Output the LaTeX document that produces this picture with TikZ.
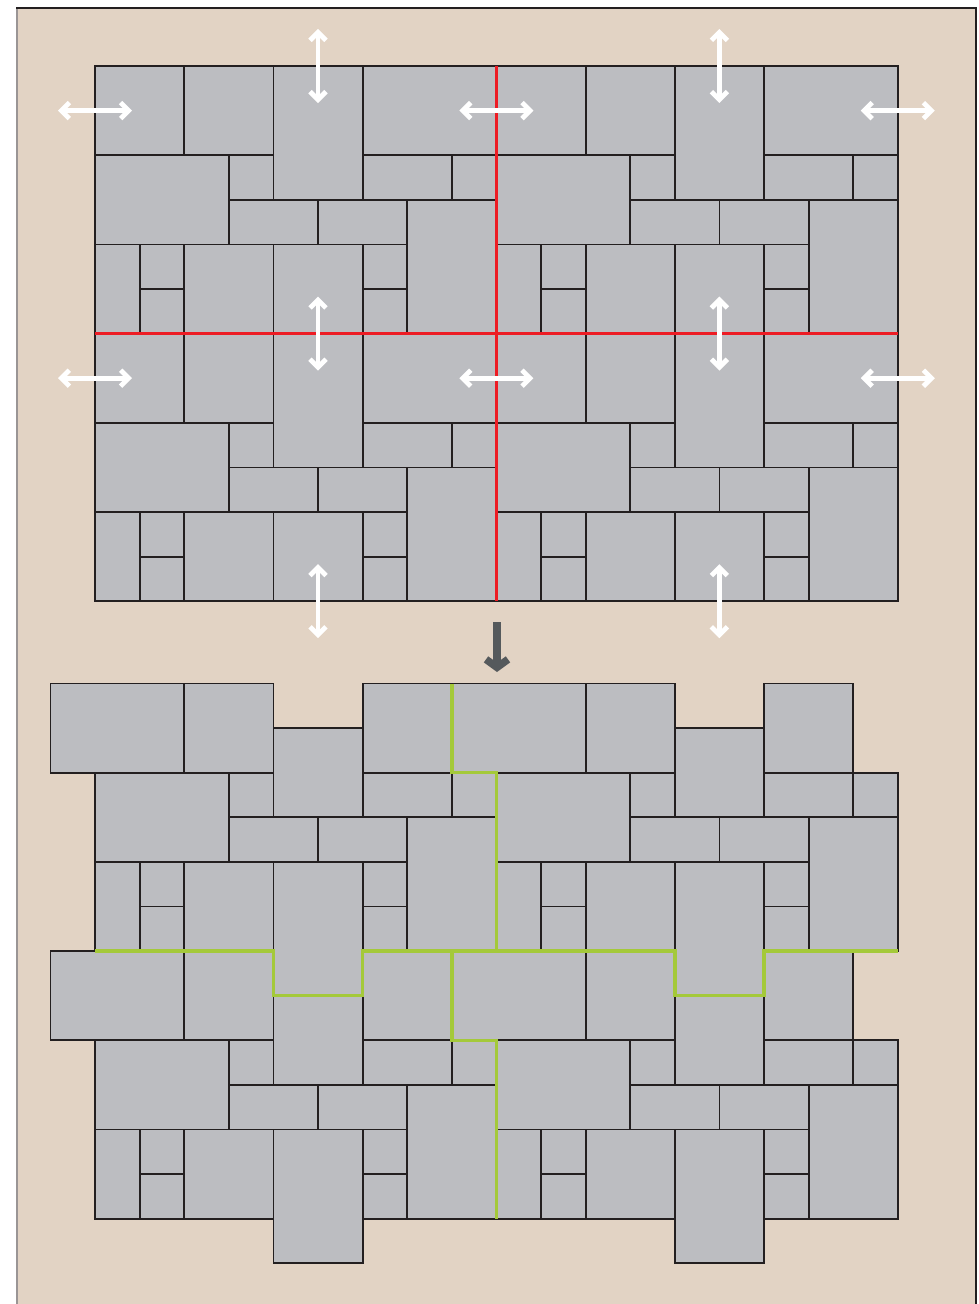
\documentclass[tikz,border=0pt]{standalone}
\usetikzlibrary{arrows.meta}
\definecolor{beige}{HTML}{E2D3C4}
\definecolor{tilegray}{HTML}{BCBDC1}
\definecolor{tileline}{HTML}{231F20}
\definecolor{cutred}{HTML}{ED1C24}
\definecolor{seamgreen}{HTML}{A4C93A}
\definecolor{darkarrow}{HTML}{55595C}
\definecolor{frameleft}{HTML}{9A9595}
\begin{document}
\begin{tikzpicture}[x=1pt,y=-1pt,
  tile/.style={fill=tilegray,draw=tileline,line width=1.8pt},
  redcut/.style={draw=cutred,line width=3.4pt},
  seam/.style={draw=seamgreen,line width=3.4pt},
  pullarrow/.style={draw=white,line width=4.8pt,{Straight Barb[length=8pt,width=16pt]}-{Straight Barb[length=8pt,width=16pt]}},
  downarrow/.style={draw=darkarrow,line width=7.5pt,-{Straight Barb[length=8pt,width=22pt]}}]
\useasboundingbox (0,0) rectangle (979,1304);
\fill[white] (0,0) rectangle (979,1304);
\fill[beige] (17,8) rectangle (976,1310);
\draw[frameleft,line width=1.4pt] (17,8) -- (17,1310);
\draw[tileline,line width=1.4pt] (16.3,8) -- (976,8) -- (976,1310);
% top: four rectangular blocks
\begin{scope}[shift={(95pt,-66pt)},x=44.6pt,y=-44.6pt]
  \foreach \ox/\oy in {0/0,9/0,0/6,9/6}{
    \foreach \a/\b/\c/\d in {0/0/2/2,2/0/4/2,4/0/6/3,6/0/9/2,0/2/3/4,3/2/4/3,6/2/8/3,8/2/9/3,3/3/5/4,5/3/7/4,7/3/9/6,0/4/1/6,1/4/2/5,1/5/2/6,2/4/4/6,4/4/6/6,6/4/7/5,6/5/7/6}{
      \draw[tile] (\a+\ox,\b+\oy) rectangle (\c+\ox,\d+\oy);
    }
  }
  \draw[redcut] (9,0) -- (9,12);
  \draw[redcut] (0,6) -- (18,6);
  \foreach \cx [count=\i] in {0,9,18}{
    \foreach \cy [count=\j] in {1,7}{
      \coordinate (hl\i\j) at (\cx-0.83,\cy);
      \coordinate (hr\i\j) at (\cx+0.83,\cy);
      \draw[pullarrow] (hl\i\j) -- (hr\i\j);
    }
  }
  \foreach \cx [count=\i] in {5,14}{
    \foreach \cy [count=\j] in {0,6,12}{
      \coordinate (vt\i\j) at (\cx,\cy-0.83);
      \coordinate (vb\i\j) at (\cx,\cy+0.83);
      \draw[pullarrow] (vt\i\j) -- (vb\i\j);
    }
  }
\end{scope}
% arrow between the two figures
\coordinate (dtop) at (497,622);
\coordinate (dtip) at (497,672);
\draw[downarrow] (dtop) -- (dtip);
% bottom: four interlocking modules
\begin{scope}[shift={(95pt,-683.5pt)},x=44.6pt,y=-44.6pt]
  \foreach \ox/\oy in {0/0,9/0,0/6,9/6}{
    \foreach \a/\b/\c/\d in {-1/0/2/2,2/0/4/2,4/1/6/3,6/0/8/2,0/2/3/4,3/2/4/3,6/2/8/3,8/2/9/3,3/3/5/4,5/3/7/4,7/3/9/6,0/4/1/6,1/4/2/5,1/5/2/6,2/4/4/6,4/4/6/7,6/4/7/5,6/5/7/6}{
      \draw[tile] (\a+\ox,\b+\oy) rectangle (\c+\ox,\d+\oy);
    }
  }
  \draw[seam] (8,0) -- (8,2) -- (9,2) -- (9,6);
  \draw[seam] (0,6) -- (4,6) -- (4,7) -- (6,7) -- (6,6) -- (13,6) -- (13,7) -- (15,7) -- (15,6) -- (18,6);
  \draw[seam] (8,6) -- (8,8) -- (9,8) -- (9,12);
\end{scope}
\end{tikzpicture}
\end{document}
